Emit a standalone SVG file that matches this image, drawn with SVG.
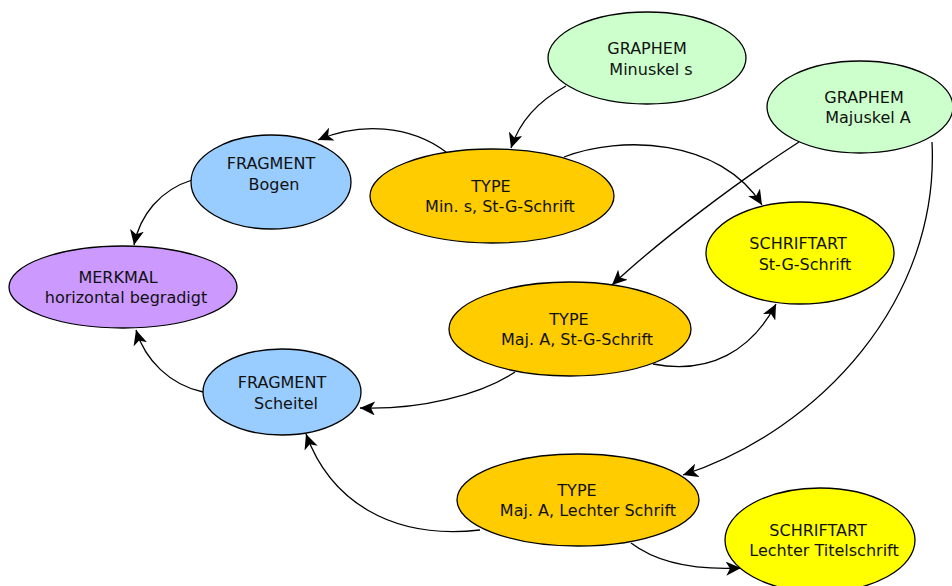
<svg xmlns="http://www.w3.org/2000/svg" width="952" height="586" viewBox="0 0 952 586">
<style>
.n{stroke:#000;stroke-width:1.3}
.g{fill:#ccffcc}.t{fill:#ffcc00}.f{fill:#99ccff}.m{fill:#cc99ff}.s{fill:#ffff00}
text{font-family:"DejaVu Sans","Liberation Sans",sans-serif;font-size:16px;fill:#111;text-anchor:middle}
.e{fill:none;stroke:#000;stroke-width:1.3;marker-end:url(#arr)}
</style>
<defs>
<marker id="arr" markerUnits="userSpaceOnUse" markerWidth="16" markerHeight="14" refX="15" refY="7" orient="auto">
<path d="M0,0 L15,7 L0,14 L4,7 z" fill="#000"/>
</marker>
</defs>
<rect width="952" height="586" fill="#fff"/>
<g id="edges">
<path class="e" d="M566,86 C540,100 520,120 511,148"/>
<path class="e" d="M446,152 C410,125 360,122 318,140"/>
<path class="e" d="M192,180 C160,190 140,215 134,245"/>
<path class="e" d="M564,157 C620,135 720,138 762,205"/>
<path class="e" d="M799,142 C740,180 660,240 612,285"/>
<path class="e" d="M653,364 C710,375 752,350 776,304"/>
<path class="e" d="M515,372 C480,395 420,410 360,408"/>
<path class="e" d="M203,392 C170,385 145,360 136,330"/>
<path class="e" d="M932,142 C940,300 820,430 683,475"/>
<path class="e" d="M480,530 C390,540 330,500 306,434"/>
<path class="e" d="M631,543 C660,565 700,570 741,568"/>
</g>
<g id="graphem_minuskel_s"><ellipse class="n g" cx="647" cy="58" rx="99" ry="46"/><text x="647" y="54">GRAPHEM</text><text x="651" y="75">Minuskel s</text></g>
<g id="graphem_majuskel_a"><ellipse class="n g" cx="860" cy="107" rx="93" ry="46"/><text x="864" y="103">GRAPHEM</text><text x="868" y="123">Majuskel A</text></g>
<g id="fragment_bogen"><ellipse class="n f" cx="271" cy="182" rx="80" ry="47"/><text x="271" y="169">FRAGMENT</text><text x="274" y="190">Bogen</text></g>
<g id="type_min_s"><ellipse class="n t" cx="492" cy="196" rx="122" ry="47"/><text x="491" y="192">TYPE</text><text x="500" y="212">Min. s, St-G-Schrift</text></g>
<g id="schriftart_stg"><ellipse class="n s" cx="800" cy="253" rx="94" ry="51"/><text x="798" y="249">SCHRIFTART</text><text x="805" y="270">St-G-Schrift</text></g>
<g id="merkmal"><ellipse class="n m" cx="123" cy="287" rx="114" ry="41"/><text x="118" y="283">MERKMAL</text><text x="126" y="303">horizontal begradigt</text></g>
<g id="type_maj_a_stg"><ellipse class="n t" cx="570" cy="329" rx="121" ry="47"/><text x="569" y="325">TYPE</text><text x="577" y="345">Maj. A, St-G-Schrift</text></g>
<g id="fragment_scheitel"><ellipse class="n f" cx="282" cy="392" rx="79" ry="43"/><text x="282" y="388">FRAGMENT</text><text x="286" y="409">Scheitel</text></g>
<g id="type_maj_a_lechter"><ellipse class="n t" cx="578" cy="500" rx="121" ry="46"/><text x="577" y="496">TYPE</text><text x="588" y="516">Maj. A, Lechter Schrift</text></g>
<g id="schriftart_lechter"><ellipse class="n s" cx="820" cy="540" rx="95" ry="52"/><text x="818" y="536">SCHRIFTART</text><text x="824" y="556">Lechter Titelschrift</text></g>
</svg>
